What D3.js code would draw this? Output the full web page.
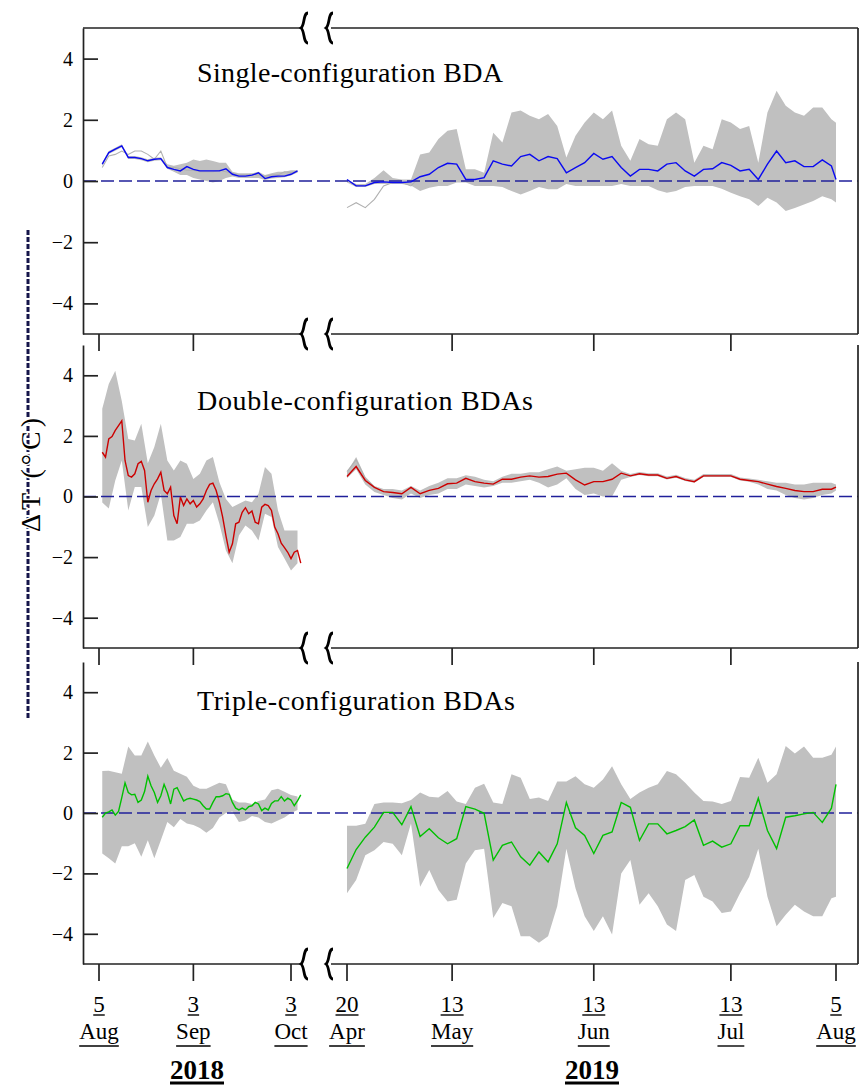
<!DOCTYPE html>
<html>
<head>
<meta charset="utf-8">
<script src="https://cdn.jsdelivr.net/npm/d3@7"></script>
<style>
  body { margin: 0; background: #fff; }
  svg { display: block; }
  text { font-family: "Liberation Serif", "Times New Roman", serif; fill: #000; }
</style>
</head>
<body>
<div id="chart"></div>
<script>
// ---- categories / ticks ----
const tickDates = ["2018-08-05", "2018-09-03", "2018-10-03", "2019-04-20",
                   "2019-05-13", "2019-06-13", "2019-07-13", "2019-08-05"];
const dayLabels = ["5", "3", "3", "20", "13", "13", "13", "5"];
const monthLabels = ["Aug", "Sep", "Oct", "Apr", "May", "Jun", "Jul", "Aug"];
const yearLabels = ["2018", "2019"];
const yTicks = [-4, -2, 0, 2, 4];
const titles = ["Single-configuration BDA", "Double-configuration BDAs", "Triple-configuration BDAs"];

// day offsets of the samples (2018 from 5 Aug, 2019 from 20 Apr)
const offs2018 = d3.range(1, 62, 2);
const offs2018Daily = d3.range(1, 63);
const offs2019 = [...d3.range(0, 107, 2), 107];

// ---- panel 1: single ----
const single2018Mean = [0.55,0.93,1.04,1.15,0.77,0.77,0.73,0.66,0.71,0.73,
  0.44,0.38,0.33,0.47,0.38,0.33,0.33,0.33,0.33,0.4,
  0.22,0.16,0.16,0.19,0.27,0.08,0.14,0.16,0.16,0.22,0.33];
const single2018Other = [0.44,0.82,0.87,0.98,0.87,0.98,0.98,0.87,0.71,0.98,
  0.44,0.45,0.4,0.35,0.35,0.3,0.3,0.3,0.35,0.3,
  0.25,0.2,0.2,0.22,0.2,0.15,0.2,0.2,0.3,0.28,0.3];
const single2018Hi = [0.6,0.98,1.09,1.2,0.82,0.82,0.78,0.71,0.76,0.78,
  0.55,0.5,0.55,0.6,0.7,0.65,0.7,0.65,0.6,0.6,
  0.3,0.25,0.25,0.25,0.3,0.2,0.25,0.3,0.3,0.35,0.35];
const single2018Lo = [0.5,0.88,0.99,1.1,0.72,0.72,0.68,0.61,0.66,0.68,
  0.4,0.3,0.2,0.2,0.1,0.05,0.0,-0.05,0.0,0.1,
  0.15,0.1,0.1,0.1,0.1,0.03,0.08,0.1,0.12,0.18,0.28];
const single2019Mean = [0.05,-0.16,-0.16,-0.05,-0.03,-0.05,-0.05,-0.03,0.14,0.22,
  0.44,0.58,0.55,0.05,0.05,0.11,0.66,0.55,0.49,0.8,
  0.87,0.66,0.8,0.73,0.27,0.44,0.6,0.9,0.71,0.8,
  0.44,0.16,0.38,0.38,0.33,0.55,0.6,0.33,0.16,0.38,
  0.4,0.6,0.51,0.33,0.38,0.05,0.55,0.98,0.6,0.66,
  0.47,0.47,0.69,0.49,0.05];
const single2019Hi = [0.05,-0.1,-0.1,0.1,0.35,0.1,0.05,0.05,0.87,0.93,
  1.37,1.64,1.7,0.38,0.38,0.27,1.58,1.26,2.24,2.3,
  2.13,2.02,2.19,1.8,0.77,1.48,1.91,2.24,2.02,2.3,
  1.15,0.66,1.37,1.2,1.15,2.02,2.24,2.02,0.6,1.15,
  1.04,2.02,1.91,1.7,1.8,0.6,2.24,2.95,2.46,2.24,
  2.13,2.4,2.4,2.02,1.9];
const single2019Lo = [-0.05,-0.2,-0.2,-0.1,-0.1,-0.1,-0.1,-0.15,-0.33,-0.22,
  -0.16,-0.16,-0.05,-0.05,-0.16,-0.16,-0.16,-0.2,-0.33,-0.44,
  -0.33,-0.2,-0.27,-0.27,-0.1,-0.16,-0.16,-0.16,-0.16,-0.16,
  -0.1,-0.16,-0.16,-0.16,-0.3,-0.38,-0.33,-0.2,-0.16,-0.16,
  -0.16,-0.25,-0.38,-0.5,-0.6,-0.82,-0.55,-0.7,-0.98,-0.88,
  -0.77,-0.65,-0.5,-0.6,-0.7];
const single2019Other = [-0.87,-0.71,-0.87,-0.6,-0.16,-0.05,-0.05,-0.16,0.14];

// ---- panel 2: double ----
const double2018Mean = [1.46,1.3,1.9,1.98,2.18,2.34,2.5,1.19,0.69,0.64,
  0.75,1.08,1.16,0.86,-0.19,0.2,0.42,0.58,0.8,0.2,
  0.09,0.31,-0.63,-0.9,-0.02,-0.3,-0.08,-0.24,-0.13,-0.35,
  -0.24,-0.08,0.2,0.4,0.44,0.2,-0.19,-0.68,-1.29,-1.84,
  -1.56,-0.9,-0.85,-0.52,-0.37,-0.57,-0.48,-0.85,-0.9,-0.35,
  -0.26,-0.3,-0.46,-1.01,-1.23,-1.54,-1.69,-1.84,-2.05,-1.84,
  -1.78,-2.2];
const double2018Hi = [2.9,3.71,4.15,3.15,1.9,1.85,2.4,1.1,1.63,2.4,
  1.19,0.86,1.19,1.08,0.58,0.75,1.19,1.3,0.47,-0.08,
  -0.35,-0.24,-0.13,-0.19,0.09,0.97,0.75,-0.46,-1.12,-1.12,-1.12];
const double2018Lo = [-0.2,-0.4,0.53,1.19,-0.46,0.31,0.31,-1.01,-0.63,0.09,
  -1.45,-1.45,-1.34,-0.9,-0.9,-0.79,-0.46,-0.19,-0.9,-1.78,
  -2.2,-1.29,-0.96,-1.12,-1.45,-0.57,-0.68,-1.67,-2.05,-2.44,-2.2];
const double2019Mean = [0.66,0.99,0.53,0.3,0.16,0.13,0.09,0.3,0.09,0.2,
  0.27,0.42,0.44,0.6,0.49,0.44,0.41,0.57,0.57,0.64,
  0.68,0.64,0.66,0.74,0.77,0.55,0.38,0.49,0.49,0.57,
  0.77,0.68,0.75,0.71,0.71,0.6,0.66,0.55,0.49,0.68,
  0.68,0.68,0.68,0.57,0.53,0.49,0.41,0.33,0.27,0.2,
  0.16,0.16,0.24,0.24,0.31];
const double2019Hi = [0.8,1.3,0.65,0.35,0.25,0.25,0.2,0.35,0.2,0.35,
  0.45,0.6,0.6,0.7,0.65,0.55,0.5,0.65,0.75,0.75,
  0.8,0.8,0.9,0.99,0.85,0.9,0.95,0.95,0.85,1.1,
  0.85,0.74,0.81,0.77,0.77,0.66,0.72,0.61,0.55,0.74,
  0.74,0.74,0.74,0.63,0.59,0.55,0.5,0.45,0.45,0.4,
  0.4,0.45,0.45,0.45,0.4];
const double2019Lo = [0.6,0.9,0.4,0.15,0.05,-0.05,-0.1,0.1,-0.05,0.05,
  0.1,0.25,0.25,0.4,0.35,0.3,0.35,0.45,0.45,0.5,
  0.55,0.45,0.3,0.4,0.6,0.25,0.05,0.1,0.0,0.0,
  0.55,0.64,0.71,0.67,0.67,0.56,0.62,0.51,0.45,0.64,
  0.64,0.64,0.64,0.53,0.49,0.4,0.25,0.2,0.05,-0.05,
  -0.1,-0.05,0.05,0.1,0.2];
const double2019Other = [0.82,1.21,0.6,0.32];

// ---- panel 3: triple ----
const triple2018Mean = [-0.14,0,0.04,0.1,-0.07,0.05,0.51,1.0,0.68,0.6,
  0.62,0.35,0.43,0.71,1.22,0.9,0.68,0.35,0.57,0.95,
  0.68,0.3,0.79,0.84,0.62,0.4,0.46,0.49,0.46,0.43,
  0.38,0.24,0.13,0.13,0.35,0.54,0.54,0.57,0.64,0.62,
  0.35,0.16,0.1,0.16,0.1,0.21,0.24,0.35,0.3,0.08,
  0.16,0.1,0.32,0.4,0.4,0.54,0.4,0.49,0.43,0.24,
  0.4,0.6];
const triple2018Hi = [1.39,1.4,1.35,1.3,2.2,1.9,1.9,2.37,1.9,1.5,
  1.82,1.4,1.3,1.2,0.9,0.8,0.8,0.9,1.0,0.95,
  0.45,0.35,0.35,0.3,0.4,0.45,0.75,0.8,0.7,0.6,0.55];
const triple2018Lo = [-1.34,-1.5,-1.67,-1.1,-1.1,-1.0,-1.45,-0.9,-1.5,-0.9,
  -0.3,-0.47,-0.2,-0.35,-0.4,-0.5,-0.65,-0.5,-0.15,0.0,
  0.05,-0.3,-0.25,-0.1,-0.15,-0.3,-0.35,-0.25,-0.15,0.0,0.1];
const triple2019Mean = [-1.84,-1.21,-0.8,-0.47,0.02,0.02,-0.39,0.21,-0.78,-0.52,
  -0.82,-1.02,-0.85,0.21,0.13,-0.01,-1.56,-1.07,-0.96,-1.45,
  -1.73,-1.29,-1.62,-1.02,0.35,-0.49,-0.74,-1.34,-0.74,-0.63,
  0.35,0.19,-0.91,-0.36,-0.36,-0.69,-0.58,-0.45,-0.23,-1.07,
  -0.93,-1.13,-1.02,-0.42,-0.42,0.49,-0.58,-1.18,-0.14,-0.09,
  -0.03,0.02,-0.31,0.16,0.95];
const triple2019Hi = [-0.42,-0.42,-0.36,0.3,0.35,0.35,0.32,0.43,0.68,0.54,
  0.51,0.73,0.38,0.3,0.84,0.97,0.35,0.3,1.28,1.17,
  0.46,0.51,0.4,1.04,1.04,1.22,0.95,0.84,1.11,1.55,
  0.95,0.46,0.68,0.84,0.95,1.39,1.28,1.0,0.68,0.4,
  0.38,0.3,0.4,1.19,1.17,1.83,1.0,1.28,2.22,1.97,
  2.2,1.83,1.83,1.93,2.2];
const triple2019Lo = [-2.66,-2.22,-1.4,-1.23,-0.96,-1.02,-1.4,-0.35,-2.44,-1.89,
  -2.55,-2.93,-2.87,-1.67,-1.23,-1.18,-3.48,-2.98,-3.09,-4.08,
  -4.08,-4.3,-4.08,-3.09,-1.18,-2.49,-3.42,-3.91,-3.42,-4.02,
  -2.0,-1.56,-3.04,-2.66,-3.09,-3.69,-3.91,-2.22,-2.05,-2.77,
  -2.93,-3.31,-3.26,-2.66,-2.11,-1.18,-2.77,-3.75,-3.37,-3.04,
  -3.26,-3.42,-3.42,-2.82,-2.77];

// ---- layout ----
const width = 862, height = 1086;
const xLeft = 83, xRight = 858, breakA = 304, breakB = 329;
const start2018 = new Date(2018, 7, 5), start2019 = new Date(2019, 3, 20);
const parse = d3.timeParse("%Y-%m-%d");

const x2018 = d3.scaleTime().domain([start2018, new Date(2018, 9, 3)]).range([99, 291]);
const x2019 = d3.scaleTime().domain([start2019, new Date(2019, 7, 5)]).range([347, 836]);
const xFor = (d) => (d.getFullYear() === 2018 ? x2018 : x2019);

function pts(offs, start, vals) {
  return vals.map((v, i) => ({ date: d3.timeDay.offset(start, offs[i]), v }));
}
function bandPts(offs, start, hi, lo) {
  return hi.map((h, i) => ({ date: d3.timeDay.offset(start, offs[i]), hi: h, lo: lo[i] }));
}

const panels = [
  { title: titles[0], top: 28, bottom: 334, titleY: 82, titleLen: 306, color: "#0a0af0", topLine: true, allTicks: false,
    segs: [
      { x: x2018, mean: pts(offs2018, start2018, single2018Mean),
        band: bandPts(offs2018, start2018, single2018Hi, single2018Lo), other: pts(offs2018, start2018, single2018Other) },
      { x: x2019, mean: pts(offs2019, start2019, single2019Mean),
        band: bandPts(offs2019, start2019, single2019Hi, single2019Lo), other: pts(offs2019, start2019, single2019Other) }
    ] },
  { title: titles[1], top: 345, bottom: 648, titleY: 410, titleLen: 336, color: "#cc0000", topLine: false, allTicks: false,
    segs: [
      { x: x2018, mean: pts(offs2018Daily, start2018, double2018Mean),
        band: bandPts(offs2018, start2018, double2018Hi, double2018Lo), other: [] },
      { x: x2019, mean: pts(offs2019, start2019, double2019Mean),
        band: bandPts(offs2019, start2019, double2019Hi, double2019Lo), other: pts(offs2019, start2019, double2019Other) }
    ] },
  { title: titles[2], top: 662, bottom: 964, titleY: 710, titleLen: 318, color: "#00c000", topLine: false, allTicks: true,
    segs: [
      { x: x2018, mean: pts(offs2018Daily, start2018, triple2018Mean),
        band: bandPts(offs2018, start2018, triple2018Hi, triple2018Lo), other: [] },
      { x: x2019, mean: pts(offs2019, start2019, triple2019Mean),
        band: bandPts(offs2019, start2019, triple2019Hi, triple2019Lo), other: [] }
    ] }
];

const svg = d3.select("#chart").append("svg")
  .attr("width", width)
  .attr("height", height);

// axis break mark, drawn like a tall curly brace
function breakMark(g, x, y) {
  g.append("path")
    .attr("d", `M${x + 4},${y - 15} C${x - 1},${y - 15} ${x + 1},${y - 3} ${x - 3},${y}
                C${x + 1},${y + 3} ${x - 1},${y + 15} ${x + 4},${y + 15}`)
    .attr("fill", "none")
    .attr("stroke", "#000")
    .attr("stroke-width", 2.8);
}

function brokenHLine(g, y) {
  g.append("line").attr("x1", xLeft).attr("x2", breakA - 1).attr("y1", y).attr("y2", y)
    .attr("stroke", "#222").attr("stroke-width", 1.7);
  g.append("line").attr("x1", breakB + 2).attr("x2", xRight).attr("y1", y).attr("y2", y)
    .attr("stroke", "#222").attr("stroke-width", 1.7);
  breakMark(g, breakA, y);
  breakMark(g, breakB, y);
}

const tickDateObjs = tickDates.map(parse);

panels.forEach((p) => {
  const y = d3.scaleLinear().domain([-5, 5]).range([p.bottom, p.top]);
  const g = svg.append("g");

  // range band and secondary trace
  p.segs.forEach((s) => {
    g.append("path")
      .datum(s.band)
      .attr("fill", "#c0c0c0")
      .attr("d", d3.area()
        .x((d) => s.x(d.date))
        .y0((d) => y(d.lo))
        .y1((d) => y(d.hi)));
    if (s.other.length) {
      g.append("path")
        .datum(s.other)
        .attr("fill", "none")
        .attr("stroke", "#b0b0b0")
        .attr("stroke-width", 1.1)
        .attr("d", d3.line().x((d) => s.x(d.date)).y((d) => y(d.v)));
    }
  });

  // zero reference
  g.append("line")
    .attr("x1", xLeft).attr("x2", xRight)
    .attr("y1", y(0)).attr("y2", y(0))
    .attr("stroke", "#20209a")
    .attr("stroke-width", 1.7)
    .attr("stroke-dasharray", "13,5");

  // mean line
  p.segs.forEach((s) => {
    g.append("path")
      .datum(s.mean)
      .attr("fill", "none")
      .attr("stroke", p.color)
      .attr("stroke-width", 1.4)
      .attr("d", d3.line().x((d) => s.x(d.date)).y((d) => y(d.v)));
  });

  // left axis with inward ticks
  const yAxis = g.append("g")
    .attr("transform", `translate(${xLeft},0)`)
    .call(d3.axisLeft(y).tickValues(yTicks).tickSizeInner(-15).tickSizeOuter(0).tickPadding(10));
  yAxis.selectAll("path, line").attr("stroke", "#222").attr("stroke-width", 1.7);
  yAxis.selectAll("text")
    .attr("font-family", '"Liberation Serif", serif')
    .attr("font-size", 20)
    .attr("fill", "#000");

  // right border
  g.append("line")
    .attr("x1", xRight).attr("x2", xRight)
    .attr("y1", p.top).attr("y2", p.bottom)
    .attr("stroke", "#222").attr("stroke-width", 1.7);

  if (p.topLine) brokenHLine(g, p.top);
  brokenHLine(g, p.bottom);

  // x ticks hanging below the panel
  const tickIdx = p.allTicks ? d3.range(tickDates.length) : [0, 1, 4, 5, 6];
  g.selectAll(".xtick")
    .data(tickIdx.map((i) => tickDateObjs[i]))
    .join("line")
    .attr("class", "xtick")
    .attr("x1", (d) => xFor(d)(d)).attr("x2", (d) => xFor(d)(d))
    .attr("y1", p.bottom).attr("y2", p.bottom + 17)
    .attr("stroke", "#222").attr("stroke-width", 1.7);

  // title
  g.append("text")
    .attr("x", 197)
    .attr("y", p.titleY)
    .attr("font-size", 28)
    .attr("textLength", p.titleLen)
    .attr("lengthAdjust", "spacing")
    .text(p.title);
});

// ---- bottom date labels ----
function underlined(x, y, txt, size, weight, thick, gap) {
  const t = svg.append("text")
    .attr("x", x).attr("y", y)
    .attr("text-anchor", "middle")
    .attr("font-size", size)
    .attr("font-weight", weight)
    .text(txt);
  const w = t.node().getComputedTextLength();
  svg.append("line")
    .attr("x1", x - w / 2).attr("x2", x + w / 2)
    .attr("y1", y + gap).attr("y2", y + gap)
    .attr("stroke", "#000").attr("stroke-width", thick);
}

tickDateObjs.forEach((d, i) => {
  const x = xFor(d)(d);
  underlined(x, 1012, dayLabels[i], 23, "normal", 1.4, 3);
  underlined(x, 1039, monthLabels[i], 23, "normal", 1.4, 7);
});
underlined(197, 1079, yearLabels[0], 27, "bold", 3, 4);
underlined(592, 1079, yearLabels[1], 27, "bold", 3, 4);

// ---- y label with dashed guide ----
svg.append("line")
  .attr("x1", 28).attr("x2", 28)
  .attr("y1", 230).attr("y2", 718)
  .attr("stroke", "#15154a")
  .attr("stroke-width", 3)
  .attr("stroke-dasharray", "5,2");
svg.append("text")
  .attr("transform", "translate(40,475) rotate(-90)")
  .attr("text-anchor", "middle")
  .attr("font-size", 28)
  .attr("textLength", 114)
  .attr("lengthAdjust", "spacing")
  .attr("stroke", "#fff")
  .attr("stroke-width", 3)
  .attr("paint-order", "stroke")
  .text("ΔT (°C)");
</script>
</body>
</html>
